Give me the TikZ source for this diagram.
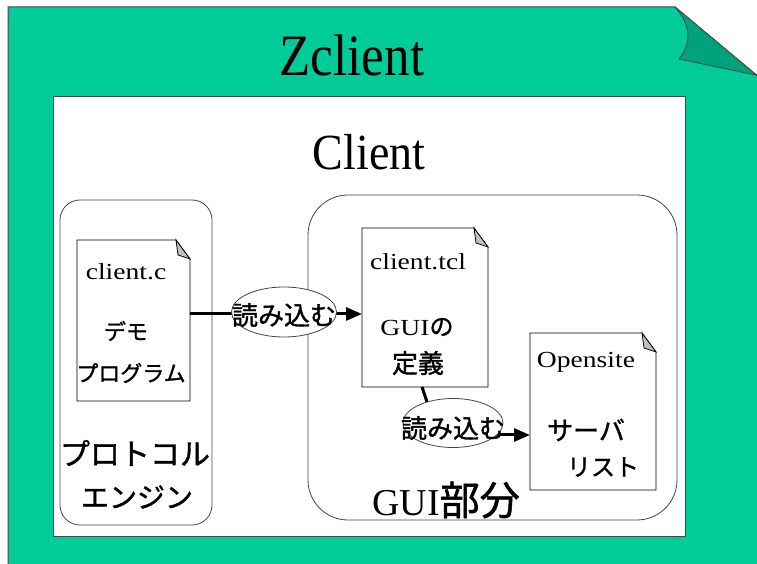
\documentclass[tikz,border=0pt]{standalone}
\usepackage{fontspec}
\setmainfont{Liberation Serif}
\newfontfamily\jp[FakeBold=1.2]{Noto Sans CJK JP}
\usetikzlibrary{arrows.meta,shapes.geometric}
\definecolor{pagegreen}{RGB}{0,204,153}
\definecolor{flapgreen}{RGB}{0,162,122}
\definecolor{foldgray}{RGB}{192,192,192}
\definecolor{edgegray}{RGB}{70,70,70}
\newcommand\hs[2]{\scalebox{#1}[1]{#2}}
\newcommand\vs[2]{\scalebox{1}[#1]{#2}}
\newcommand\fsz[1]{\fontsize{#1}{#1}\selectfont}
\newcommand\docdraw[1]{%
  \draw[docline,fill=white] (#1.south west) -- (#1.south east) -- ([yshift=-19pt]#1.north east) -- ([xshift=-14pt]#1.north east) -- (#1.north west) -- cycle;
  \draw[docline,fill=foldgray] ([xshift=-14pt]#1.north east) -- ([xshift=-12pt,yshift=-15pt]#1.north east) -- ([yshift=-19pt]#1.north east) -- cycle;}
\begin{document}
\begin{tikzpicture}[x=1pt,y=1pt,
  grp/.style={draw=edgegray, line width=0.8pt, rectangle, outer sep=0pt, inner sep=0pt},
  docbox/.style={rectangle, outer sep=0pt, inner sep=0pt},
  docline/.style={draw=black, line width=0.8pt},
  ell/.style={ellipse, draw=edgegray, line width=0.8pt, fill=white, inner sep=0pt, outer sep=0pt},
  conn/.style={line width=3pt, -{Triangle[length=16pt,width=13pt]}},
  jp/.style={font=\jp},
  txt/.style={inner sep=0pt}]
\useasboundingbox (0,0) rectangle (757,564);
\fill[white] (0,0) rectangle (757,564);
% page with folded corner
\draw[draw=edgegray, line width=1pt, fill=pagegreen] (8,-3) -- (8,557) -- (675,557) -- (760,486) -- (760,-3) -- cycle;
\draw[draw=edgegray, line width=0.8pt, fill=flapgreen] (675,557) .. controls (692,538) and (691,520) .. (679,505) -- (760,488) -- (760,486) -- cycle;
% inner client frame
\node[draw=edgegray, line width=1pt, fill=white, minimum width=632pt, minimum height=440pt, inner sep=0pt, outer sep=0pt, anchor=south west] (inner) at (53,27) {};
% groups
\node[grp, rounded corners=20pt, minimum width=152pt, minimum height=325pt] (proto) at (136,201.5) {};
\node[grp, rounded corners=40pt, minimum width=369pt, minimum height=325pt] (gui) at (492.5,206.5) {};
% documents
\node[docbox, minimum width=113pt, minimum height=161pt] (cc) at (133.5,243.5) {};
\node[docbox, minimum width=126pt, minimum height=159pt] (tcl) at (425,256.5) {};
\node[docbox, minimum width=126pt, minimum height=157pt] (os) at (593,152.5) {};
\docdraw{cc}
\docdraw{tcl}
\docdraw{os}
% connectors
\coordinate (k2) at (438,129);
\draw[conn] ([yshift=6.5pt]cc.east) -- ([yshift=-6.5pt]tcl.west);
\draw[line width=3pt] ([xshift=-3pt]tcl.south) -- (k2);
\draw[conn] (k2) -- ([yshift=-23.5pt]os.west);
% ellipses
\node[ell, minimum width=105pt, minimum height=50pt] (e1) at (284,252) {};
\node[ell, minimum width=100pt, minimum height=49pt] (e2) at (453,141) {};
% texts
\node[txt] (ztitle) at (352,509) {\fsz{51}\vs{1.15}{Zclient}};
\node[txt] (ctitle) at (369,412) {\fsz{46}\vs{1.1}{Client}};
\node[txt] (cctitle) at (126,292) {\fsz{23}\hs{1.2}{client.c}};
\node[txt,jp] (cc1) at (126,233) {\fsz{22}デモ};
\node[txt,jp] (cc2) at (131,191) {\fsz{22}プログラム};
\node[txt,jp] (pr1) at (135,111) {\fsz{30}プロトコル};
\node[txt,jp] (pr2) at (137,67) {\fsz{28}エンジン};
\node[txt,jp] (e1t) at (284,249) {\fsz{26}読み込む};
\node[txt] (tcltitle) at (418,302) {\fsz{23}\hs{1.2}{client.tcl}};
\node[txt] (tcl1) at (417,237) {\fsz{23}\hs{1.2}{GUI}{\jp\fsz{24}の}};
\node[txt,jp] (tcl2) at (418,201) {\fsz{26}定義};
\node[txt,jp] (e2t) at (453,136) {\fsz{26}読み込む};
\node[txt] (ostitle) at (586,202) {\fsz{23}\hs{1.2}{Opensite}};
\node[txt,jp] (os1) at (586,134) {\fsz{26}サーバ};
\node[txt,jp] (os2) at (603,97) {\fsz{24}リスト};
\node[txt] (guititle) at (446,64) {\fsz{38}GUI{\jp\fsz{40}部分}};
\end{tikzpicture}
\end{document}
